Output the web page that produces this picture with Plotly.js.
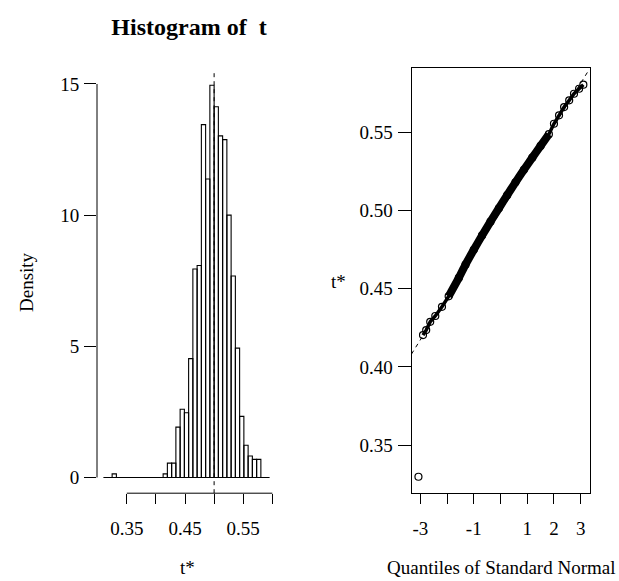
<!DOCTYPE html>
<html>
<head>
<meta charset="utf-8">
<script src="https://cdn.plot.ly/plotly-3.0.1.min.js"></script>
<style>html,body{margin:0;padding:0;background:#fff;}</style>
</head>
<body>
<div id="chart" style="width:619px;height:581px;"></div>
<script>
// ---------- data ----------
// Histogram of bootstrap replicates t* (breaks centred on t0, width binWidth)
const t0 = 0.50;
const binWidth = 0.0073;
const firstBinIndex = -26;          // first break = t0 + firstBinIndex*binWidth
const histDensity = [
  0, 0, 0.14, 0, 0, 0, 0, 0, 0, 0, 0, 0, 0, 0,
  0.14, 0.55, 0.55, 1.92, 2.60, 2.47, 4.53, 7.95, 8.08, 13.45, 11.38, 14.95,
  14.13, 13.02, 12.88, 10.00, 7.68, 4.93, 2.33, 1.23, 0.82, 0.69, 0.69,
  0, 0
];
const histXTicks = [0.35, 0.40, 0.45, 0.50, 0.55, 0.60];
const histXTickText = ['0.35', '', '0.45', '', '0.55', ''];
const histYTicks = [0, 5, 10, 15];

// Normal Q-Q plot of t*
const qqTheoretical = [-3.07, -2.90, -2.78, -2.63, -2.44, -2.19, -1.94, -1.56, -1.31, -1.00, -0.69, -0.375,
  -0.06, 0.25, 0.56, 0.875, 1.19, 1.50, 1.81, 2.00, 2.19, 2.38, 2.57, 2.75, 2.94, 3.10];
const qqSample = [0.3297, 0.4204, 0.4236, 0.4289, 0.4326, 0.4385, 0.4452, 0.4570, 0.4655, 0.4750, 0.4842, 0.4930,
  0.5016, 0.5100, 0.5182, 0.5262, 0.5340, 0.5415, 0.5490, 0.5557, 0.5611, 0.5664, 0.5707, 0.5749, 0.5781, 0.5807];
const qqMean = 0.4995;     // abline intercept (mean of t*)
const qqSd = 0.0274;       // abline slope (sd of t*)
const qqXTicks = [-3, -2, -1, 0, 1, 2, 3];
const qqXTickText = ['-3', '', '-1', '', '1', '2', '3'];
const qqYTicks = [0.35, 0.40, 0.45, 0.50, 0.55];

// ---------- layout helpers ----------
const W = 619, H = 581;
const px = v => v / W;
const py = v => 1 - v / H;
const FONT = 'Liberation Serif, Times New Roman, serif';
const black = '#000';

const binCenters = histDensity.map((d, i) => t0 + (firstBinIndex + i + 0.5) * binWidth);
const firstBreak = t0 + firstBinIndex * binWidth;
const lastBreak = t0 + (firstBinIndex + histDensity.length) * binWidth;

const qqRange = [-3.33, 3.33];
const bandStart = qqTheoretical.indexOf(-1.94);
const bandEnd = qqTheoretical.indexOf(1.81);

const traces = [
  {
    type: 'bar', x: binCenters, y: histDensity, width: binWidth,
    marker: {color: 'rgba(255,255,255,0)', line: {color: black, width: 1.1}},
    xaxis: 'x', yaxis: 'y', hoverinfo: 'skip', showlegend: false
  },
  {
    type: 'scatter', mode: 'lines', x: qqRange, y: qqRange.map(q => qqMean + qqSd * q),
    line: {color: black, width: 1, dash: '4px,4px'},
    xaxis: 'x2', yaxis: 'y2', showlegend: false, hoverinfo: 'skip'
  },
  {
    type: 'scatter', mode: 'lines',
    x: qqTheoretical.slice(bandStart, bandEnd + 1), y: qqSample.slice(bandStart, bandEnd + 1),
    line: {color: black, width: 8, shape: 'spline', smoothing: 0.6},
    xaxis: 'x2', yaxis: 'y2', showlegend: false, hoverinfo: 'skip'
  },
  {
    type: 'scatter', mode: 'lines+markers',
    x: qqTheoretical.slice(1), y: qqSample.slice(1),
    line: {color: black, width: 3.5},
    marker: {symbol: 'circle-open', size: 7, color: black, line: {width: 1.2, color: black}},
    xaxis: 'x2', yaxis: 'y2', showlegend: false
  },
  {
    type: 'scatter', mode: 'markers',
    x: qqTheoretical.slice(0, 1), y: qqSample.slice(0, 1),
    marker: {symbol: 'circle-open', size: 7, color: black, line: {width: 1.2, color: black}},
    xaxis: 'x2', yaxis: 'y2', showlegend: false
  }
];

const axisCommon = {
  showgrid: false, zeroline: false, ticks: 'outside', tickwidth: 1, tickcolor: black,
  tickfont: {family: FONT, size: 19, color: black}, fixedrange: true
};

const layout = {
  width: W, height: H,
  margin: {l: 0, r: 0, t: 0, b: 0},
  paper_bgcolor: '#fff', plot_bgcolor: 'rgba(0,0,0,0)',
  font: {family: FONT, size: 19, color: black},
  bargap: 0,
  title: {
    text: '<b>Histogram of\u00a0 t</b>',
    font: {family: FONT, size: 24, color: black},
    xref: 'paper', x: px(189), xanchor: 'center',
    yref: 'container', y: py(27), yanchor: 'middle'
  },
  xaxis: Object.assign({}, axisCommon, {
    domain: [px(97), px(276)], range: [0.2988, 0.6063], anchor: 'y',
    tickvals: histXTicks, ticktext: histXTickText, ticklen: 10, showline: false,
    ticklabelstandoff: 8
  }),
  yaxis: Object.assign({}, axisCommon, {
    domain: [py(493.2), py(69.6)], range: [-0.598, 15.548], anchor: 'x',
    tickvals: histYTicks, ticklen: 12, showline: false, ticklabelstandoff: 1
  }),
  xaxis2: Object.assign({}, axisCommon, {
    domain: [px(411.5), px(589.5)], range: qqRange, anchor: 'y2',
    tickvals: qqXTicks, ticktext: qqXTickText, ticklen: 10,
    showline: true, mirror: true, linecolor: black, linewidth: 1, ticklabelstandoff: 8
  }),
  yaxis2: Object.assign({}, axisCommon, {
    domain: [py(493.3), py(68.3)], range: [0.3191, 0.5912], anchor: 'x2',
    tickvals: qqYTicks, tickformat: '.2f', ticklen: 13,
    showline: true, mirror: true, linecolor: black, linewidth: 1, ticklabelstandoff: 1
  }),
  shapes: [
    {type: 'line', xref: 'x', yref: 'y domain', x0: histXTicks[0], x1: histXTicks[histXTicks.length - 1], y0: 0, y1: 0,
     line: {color: black, width: 1}},
    {type: 'line', xref: 'x domain', yref: 'y', x0: 0, x1: 0, y0: histYTicks[0], y1: histYTicks[histYTicks.length - 1],
     line: {color: black, width: 1}},
    {type: 'line', xref: 'x', yref: 'y', x0: firstBreak, x1: lastBreak, y0: 0, y1: 0,
     line: {color: black, width: 1}},
    {type: 'line', xref: 'x', yref: 'y domain', x0: t0, x1: t0, y0: 0, y1: 1,
     line: {color: black, width: 1, dash: '4px,4px'}}
  ],
  annotations: [
    {text: 'Density', xref: 'paper', yref: 'paper', x: px(27), y: py(282), textangle: -90,
     showarrow: false, xanchor: 'center', yanchor: 'middle', font: {family: FONT, size: 19, color: black}},
    {text: 't*', xref: 'paper', yref: 'paper', x: px(187), y: py(567),
     showarrow: false, xanchor: 'center', yanchor: 'middle', font: {family: FONT, size: 19, color: black}},
    {text: 'Quantiles of Standard Normal', xref: 'paper', yref: 'paper', x: px(500.5), y: py(567),
     showarrow: false, xanchor: 'center', yanchor: 'middle', font: {family: FONT, size: 19, color: black}},
    {text: 't*', xref: 'paper', yref: 'paper', x: px(338), y: py(282),
     showarrow: false, xanchor: 'center', yanchor: 'middle', font: {family: FONT, size: 19, color: black}}
  ]
};

Plotly.newPlot('chart', traces, layout, {staticPlot: true, displayModeBar: false});
</script>
</body>
</html>
